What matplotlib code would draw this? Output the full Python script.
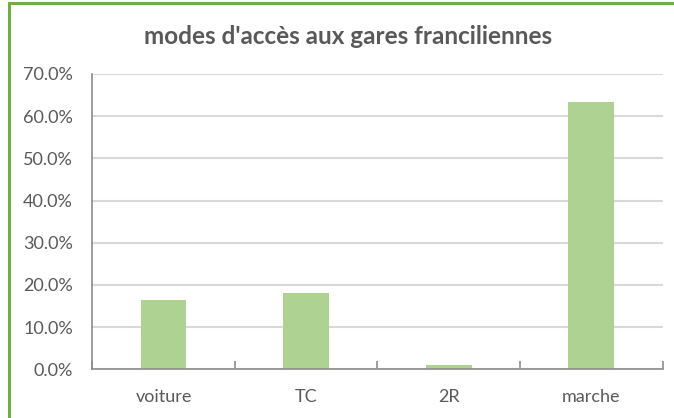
import numpy as np
import matplotlib.pyplot as plt
from matplotlib.lines import Line2D
from matplotlib.ticker import FixedLocator, FuncFormatter

# data
modes = ["voiture", "TC", "2R", "marche"]
parts = [16.4, 18.0, 1.0, 63.3]   # percent
y_ticks = [0, 10, 20, 30, 40, 50, 60, 70]

bar_color = "#ADD291"
text_color = "#595959"
grid_color = "#D9D9D9"
axis_color = "#8C8C8C"
frame_green = "#70AD47"

plt.rcParams['font.family'] = ['Lato', 'DejaVu Sans']

fig = plt.figure(figsize=(6.74, 4.18), dpi=100)
ax = fig.add_axes([0.137, 0.1165, 0.846, 0.7065])

x = np.arange(len(modes))
ax.bar(x, parts, width=0.32, color=bar_color, zorder=3)

ax.set_xlim(-0.5, len(modes) - 0.5)
ax.set_ylim(0, 70)
ax.set_yticks(y_ticks)
ax.yaxis.set_major_formatter(FuncFormatter(lambda v, p: f"{v:.1f}%"))
ax.tick_params(axis='y', length=0, pad=14, labelsize=13, labelcolor=text_color)
ax.grid(axis='y', color=grid_color, linewidth=1.5, zorder=0)

# category labels on minor ticks, boundary marks on major ticks
ax.xaxis.set_major_locator(FixedLocator(np.arange(-0.5, len(modes), 1.0)))
ax.xaxis.set_major_formatter(FuncFormatter(lambda v, p: ""))
ax.xaxis.set_minor_locator(FixedLocator(x))
ax.set_xticklabels(modes, minor=True)
ax.tick_params(axis='x', which='major', length=6, direction='in', color=axis_color, width=1.2)
ax.tick_params(axis='x', which='minor', length=0, pad=14, labelsize=13, labelcolor=text_color)

for side in ['top', 'right']:
    ax.spines[side].set_visible(False)
for side in ['left', 'bottom']:
    ax.spines[side].set_color(axis_color)
    ax.spines[side].set_linewidth(1.2)
ax.spines['bottom'].set_zorder(4)

fig.text(348 / 674, 1 - 37 / 418, "modes d'accès aux gares franciliennes",
         ha='center', va='center', fontsize=17.5, fontweight='bold', color=text_color)

# green frame (only top and left edges visible in the crop)
fig.add_artist(Line2D([9.3 / 674, 1.0], [1 - 3.3 / 418] * 2, transform=fig.transFigure,
                      color=frame_green, linewidth=2.2))
fig.add_artist(Line2D([9.3 / 674] * 2, [0.0, 1 - 3.3 / 418], transform=fig.transFigure,
                      color=frame_green, linewidth=2.2))

fig.savefig("out.png", dpi=100)
